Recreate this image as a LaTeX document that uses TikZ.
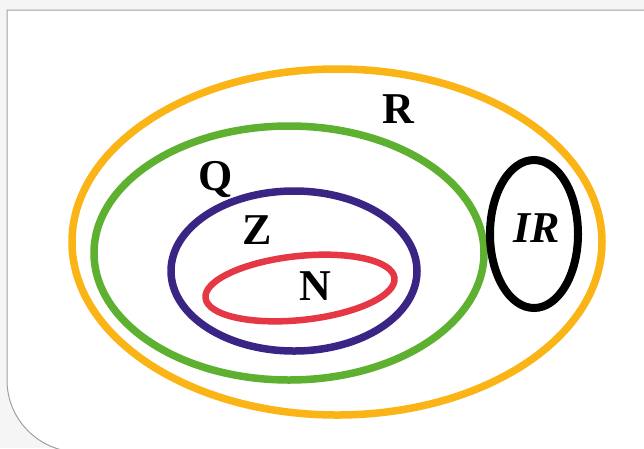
\documentclass[tikz,border=0pt]{standalone}
\usepackage{fontspec}
\setmainfont{Liberation Serif}[BoldFont={Liberation Serif Bold}, BoldItalicFont={Liberation Serif Bold Italic}]
\definecolor{setR}{HTML}{FBB416}
\definecolor{setQ}{HTML}{5DB030}
\definecolor{setZ}{HTML}{3A2585}
\definecolor{setN}{HTML}{E63744}
\definecolor{framegray}{HTML}{A0A0A0}
\tikzset{
	setline/.style={line width=7.5pt},
	setlabel/.style={font=\bfseries\fontsize{44}{44}\selectfont, anchor=base, inner sep=0pt}
}
\begin{document}
\begin{tikzpicture}[x=1pt,y=-1pt]
	
	% Page and frame
	\useasboundingbox (0,0) rectangle (644,448);
	\fill[gray!8] (0,0) rectangle (644,448);
	\filldraw[fill=white, draw=framegray, line width=1pt]
	(660,10) -- (7,10) -- (7,380) arc[start angle=180, end angle=270, radius=72pt] -- (660,452) -- cycle;
	
	% -----------------------------
	% Sets
	% -----------------------------
	\draw[setline, setR] (337,242) ellipse [x radius=265pt, y radius=173pt];
	\draw[setline, setQ] (289,253) ellipse [x radius=195pt, y radius=127pt];
	\draw[setline, setZ] (294,271) ellipse [x radius=123pt, y radius=80pt];
	\draw[setline, setN, line width=6.5pt, rotate around={6:(300,288)}] (300,288) ellipse [x radius=95pt, y radius=32pt];
	\draw[setline, black, line width=8pt] (534,234) ellipse [x radius=44pt, y radius=74pt];
	
	% Labels
	\node[setlabel] (labR) at (398,123) {R};
	\node[setlabel] (labQ) at (216,190) {Q};
	\node[setlabel] (labZ) at (257,244) {Z};
	\node[setlabel] (labN) at (315,300) {N};
	\node[setlabel, font=\bfseries\itshape\fontsize{44}{44}\selectfont] (labIR) at (537,242) {IR};
	
\end{tikzpicture}
\end{document}
